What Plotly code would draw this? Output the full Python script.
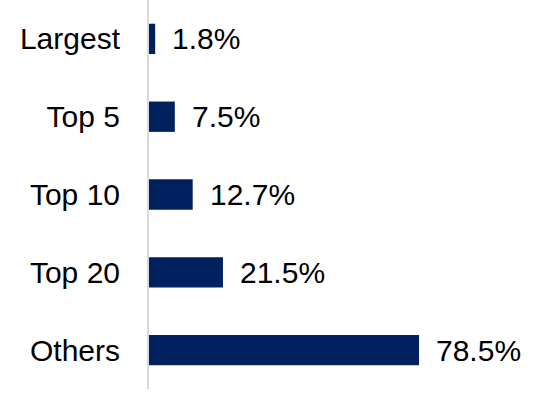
import plotly.graph_objects as go

categories = ["Largest", "Top 5", "Top 10", "Top 20", "Others"]
shares = [1.8, 7.5, 12.7, 21.5, 78.5]
labels = ["1.8%", "7.5%", "12.7%", "21.5%", "78.5%"]

NAVY = "#002060"

fig = go.Figure(go.Bar(
    x=shares, y=categories, orientation="h",
    marker=dict(color=NAVY, line=dict(width=0)),
    hoverinfo="skip",
))

for cat, val, lab in zip(categories, shares, labels):
    fig.add_annotation(x=val, y=cat, text=lab, showarrow=False,
                       xanchor="left", xshift=15,
                       font=dict(size=30, color="#000000"))

fig.update_layout(
    width=540, height=393,
    margin=dict(l=149, r=47, t=0, b=4),
    plot_bgcolor="white", paper_bgcolor="white",
    bargap=0.61,
    showlegend=False,
    font=dict(family="Liberation Sans, Arial, sans-serif", size=30, color="#000000"),
    xaxis=dict(range=[0, 100], visible=False, fixedrange=True),
    yaxis=dict(autorange="reversed", showline=True, linecolor="#d9d9d9", linewidth=2,
               showgrid=False, ticks="", ticklabelstandoff=21, zeroline=False,
               fixedrange=True),
)

# drop the default page margin so the figure sits at the window corner
fig.write_html("out.html", config={"displayModeBar": False},
               post_script="document.body.style.margin='0';")
